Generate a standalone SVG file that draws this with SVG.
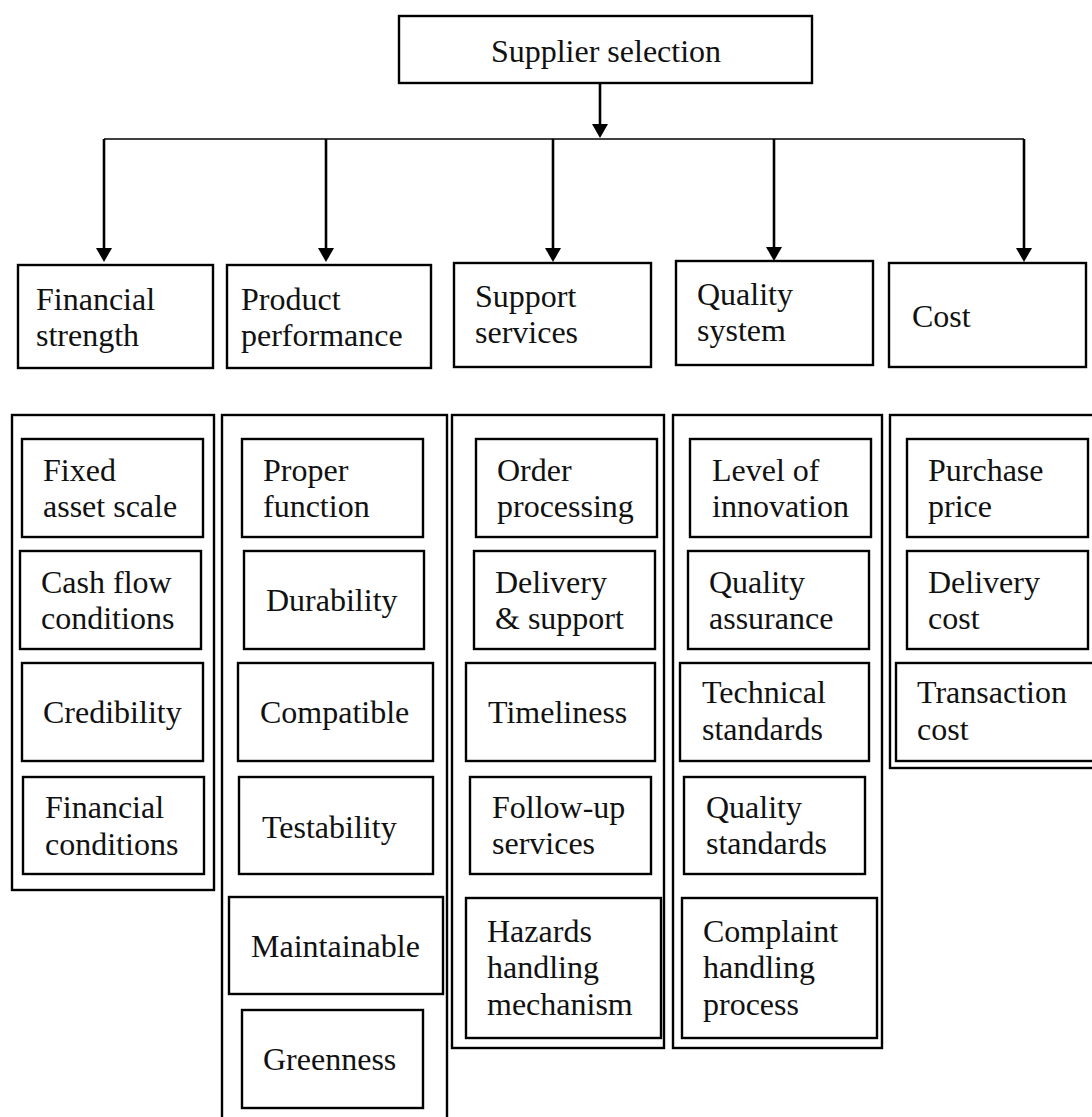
<svg xmlns="http://www.w3.org/2000/svg" width="1092" height="1117" viewBox="0 0 1092 1117">
<defs>
<style>
.box{fill:#fff;stroke:#000;stroke-width:2.4}
.frame{fill:none;stroke:#000;stroke-width:2.4}
.t{font-family:"Liberation Serif","Times New Roman",serif;font-size:32px;fill:#111}
.c{fill:none;stroke:#000;stroke-width:2.6}
.h{fill:none;stroke:#000;stroke-width:1.6}
</style>
<marker id="ah" markerUnits="userSpaceOnUse" markerWidth="16" markerHeight="16" refX="2" refY="8" orient="auto">
<path d="M0,0 L14,8 L0,16 z" fill="#000"/>
</marker>
</defs>
<rect width="1092" height="1117" fill="#fff"/>

<g id="connectors">
<line class="c" x1="600" y1="84" x2="600" y2="126" marker-end="url(#ah)"/>
<line class="h" x1="104" y1="139" x2="1024" y2="139"/>
<line class="c" x1="104" y1="139" x2="104" y2="250" marker-end="url(#ah)"/>
<line class="c" x1="326" y1="139" x2="326" y2="250" marker-end="url(#ah)"/>
<line class="c" x1="553" y1="139" x2="553" y2="250" marker-end="url(#ah)"/>
<line class="c" x1="774" y1="139" x2="774" y2="249" marker-end="url(#ah)"/>
<line class="c" x1="1024" y1="139" x2="1024" y2="250" marker-end="url(#ah)"/>
</g>

<g id="root">
<rect class="box" x="399" y="16" width="413" height="67"/>
<text class="t" x="606" y="62" text-anchor="middle">Supplier selection</text>
</g>

<g id="financial-strength">
<rect class="box" x="18" y="265" width="195" height="103"/>
<text class="t" x="36" y="310">Financial</text>
<text class="t" x="36" y="346">strength</text>
</g>
<g id="product-performance">
<rect class="box" x="227" y="265" width="204" height="103"/>
<text class="t" x="241" y="310">Product</text>
<text class="t" x="241" y="346">performance</text>
</g>
<g id="support-services">
<rect class="box" x="454" y="263" width="197" height="104"/>
<text class="t" x="475" y="307">Support</text>
<text class="t" x="475" y="343">services</text>
</g>
<g id="quality-system">
<rect class="box" x="676" y="261" width="197" height="104"/>
<text class="t" x="697" y="305">Quality</text>
<text class="t" x="697" y="341">system</text>
</g>
<g id="cost">
<rect class="box" x="889" y="263" width="197" height="104"/>
<text class="t" x="912" y="327">Cost</text>
</g>

<g id="group-financial">
<rect class="frame" x="12" y="415" width="202" height="475"/>
<g id="fixed-asset-scale">
<rect class="box" x="22" y="439" width="181" height="98"/>
<text class="t" x="43" y="481">Fixed</text>
<text class="t" x="43" y="517">asset scale</text>
</g>
<g id="cash-flow-conditions">
<rect class="box" x="20" y="551" width="181" height="98"/>
<text class="t" x="41" y="593">Cash flow</text>
<text class="t" x="41" y="629">conditions</text>
</g>
<g id="credibility">
<rect class="box" x="22" y="663" width="181" height="98"/>
<text class="t" x="43" y="723">Credibility</text>
</g>
<g id="financial-conditions">
<rect class="box" x="23" y="777" width="181" height="97"/>
<text class="t" x="45" y="818">Financial</text>
<text class="t" x="45" y="855">conditions</text>
</g>
</g>

<g id="group-product">
<rect class="frame" x="222" y="415" width="225" height="715"/>
<g id="proper-function">
<rect class="box" x="242" y="439" width="181" height="98"/>
<text class="t" x="263" y="481">Proper</text>
<text class="t" x="263" y="517">function</text>
</g>
<g id="durability">
<rect class="box" x="244" y="551" width="180" height="98"/>
<text class="t" x="266" y="611">Durability</text>
</g>
<g id="compatible">
<rect class="box" x="238" y="663" width="195" height="98"/>
<text class="t" x="260" y="723">Compatible</text>
</g>
<g id="testability">
<rect class="box" x="239" y="777" width="194" height="97"/>
<text class="t" x="262" y="838">Testability</text>
</g>
<g id="maintainable">
<rect class="box" x="229" y="897" width="214" height="97"/>
<text class="t" x="251" y="957">Maintainable</text>
</g>
<g id="greenness">
<rect class="box" x="242" y="1010" width="181" height="98"/>
<text class="t" x="263" y="1070">Greenness</text>
</g>
</g>

<g id="group-support">
<rect class="frame" x="452" y="415" width="212" height="633"/>
<g id="order-processing">
<rect class="box" x="476" y="439" width="181" height="98"/>
<text class="t" x="497" y="481">Order</text>
<text class="t" x="497" y="517">processing</text>
</g>
<g id="delivery-support">
<rect class="box" x="474" y="551" width="181" height="98"/>
<text class="t" x="495" y="593">Delivery</text>
<text class="t" x="495" y="629">&amp; support</text>
</g>
<g id="timeliness">
<rect class="box" x="466" y="663" width="189" height="98"/>
<text class="t" x="488" y="723">Timeliness</text>
</g>
<g id="follow-up-services">
<rect class="box" x="470" y="777" width="181" height="97"/>
<text class="t" x="492" y="818">Follow-up</text>
<text class="t" x="492" y="854">services</text>
</g>
<g id="hazards-handling">
<rect class="box" x="466" y="898" width="195" height="140"/>
<text class="t" x="487" y="942">Hazards</text>
<text class="t" x="487" y="978">handling</text>
<text class="t" x="487" y="1015">mechanism</text>
</g>
</g>

<g id="group-quality">
<rect class="frame" x="673" y="415" width="209" height="633"/>
<g id="level-of-innovation">
<rect class="box" x="690" y="439" width="181" height="98"/>
<text class="t" x="712" y="481">Level of</text>
<text class="t" x="712" y="517">innovation</text>
</g>
<g id="quality-assurance">
<rect class="box" x="688" y="551" width="181" height="98"/>
<text class="t" x="709" y="593">Quality</text>
<text class="t" x="709" y="629">assurance</text>
</g>
<g id="technical-standards">
<rect class="box" x="680" y="663" width="189" height="98"/>
<text class="t" x="702" y="703">Technical</text>
<text class="t" x="702" y="740">standards</text>
</g>
<g id="quality-standards">
<rect class="box" x="684" y="777" width="181" height="97"/>
<text class="t" x="706" y="818">Quality</text>
<text class="t" x="706" y="854">standards</text>
</g>
<g id="complaint-handling">
<rect class="box" x="682" y="898" width="195" height="140"/>
<text class="t" x="703" y="942">Complaint</text>
<text class="t" x="703" y="978">handling</text>
<text class="t" x="703" y="1015">process</text>
</g>
</g>

<g id="group-cost">
<rect class="frame" x="890" y="415" width="210" height="353"/>
<g id="purchase-price">
<rect class="box" x="907" y="439" width="181" height="98"/>
<text class="t" x="928" y="481">Purchase</text>
<text class="t" x="928" y="517">price</text>
</g>
<g id="delivery-cost">
<rect class="box" x="907" y="551" width="181" height="98"/>
<text class="t" x="928" y="593">Delivery</text>
<text class="t" x="928" y="629">cost</text>
</g>
<g id="transaction-cost">
<rect class="box" x="896" y="663" width="200" height="98"/>
<text class="t" x="917" y="703">Transaction</text>
<text class="t" x="917" y="740">cost</text>
</g>
</g>
</svg>
